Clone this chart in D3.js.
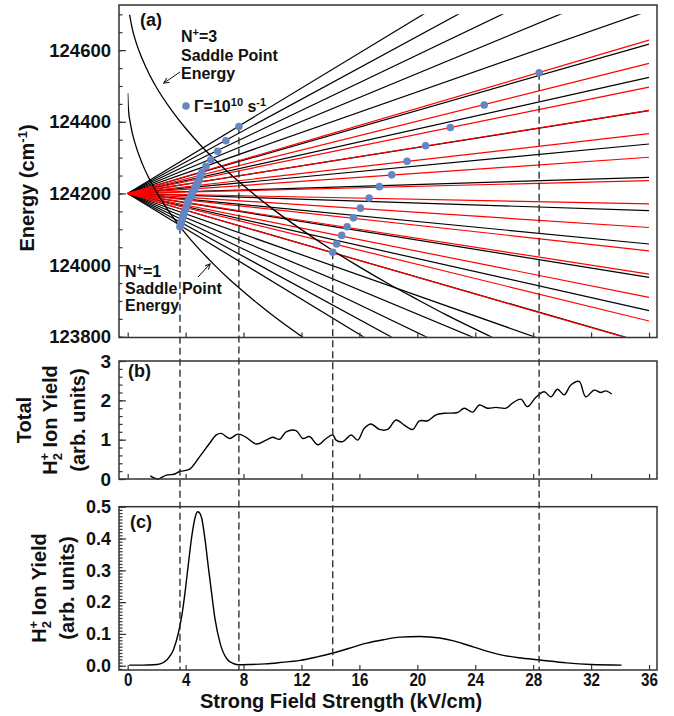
<!DOCTYPE html>
<html>
<head>
<meta charset="utf-8">
<script src="https://cdn.jsdelivr.net/npm/d3@7"></script>
<style>
body { margin: 0; background: #fff; }
text { font-family: "Liberation Sans", Arial, sans-serif; font-weight: bold; fill: #111; }
</style>
</head>
<body>
<div class="canvas"></div>
<script>
// ---- data ----
// (a) Stark manifold: every line starts at (0, originE), value = energy at F = 36 kV/cm
const originE = 124200
const blackEnd = [123315, 123408, 123501, 123594, 123687, 123780, 123873, 123966, 124059, 124152,
    124245, 124338, 124431, 124524, 124617, 124710, 124803, 124896, 124989, 125082]
const redEnd = [123779, 123844, 123910, 123975, 124040, 124105, 124171, 124236, 124301, 124367,
    124432, 124497, 124563, 124628]

// saddle point energies
const sp3F = [0.13, 0.3, 0.6, 1, 1.5, 2, 3, 4, 5, 6, 8, 10, 12, 14, 16, 18, 20, 22, 25.2]
const sp3E = [124699, 124663, 124619, 124576, 124532, 124495, 124434, 124382, 124336, 124295,
    124222, 124157, 124099, 124045, 123995, 123948, 123904, 123861, 123798]
const sp1F = [0, 0.05, 0.2, 0.5, 1, 1.5, 2, 3, 4, 5, 6, 7, 8, 9, 10, 11, 12.3]
const sp1E = [124480, 124436, 124392, 124341, 124284, 124240, 124203, 124141, 124088, 124042,
    124000, 123961, 123926, 123892, 123860, 123830, 123793]

// Gamma = 1e10 s-1 points
const dotF = [14.16, 14.43, 14.78, 15.15, 15.59, 16.07, 16.67, 17.38, 18.23, 19.29, 20.57, 22.28, 24.62, 28.41,
    5.12, 5.40, 5.74, 6.21, 6.78, 7.68,
    5.02, 4.94, 4.86, 4.78, 4.71, 4.63, 4.56, 4.49, 4.41, 4.33, 4.25, 4.16, 4.07, 3.99, 3.90, 3.83, 3.77, 3.71, 3.65, 3.61]
const dotE = [124036, 124059, 124083, 124107, 124132, 124159, 124187, 124219, 124252, 124290, 124333, 124384, 124447, 124537,
    124259, 124276, 124294, 124318, 124347, 124387,
    124250, 124240, 124233, 124227, 124221, 124214, 124208, 124203, 124196, 124190, 124184, 124175, 124166, 124157, 124147, 124137, 124128, 124120, 124112, 124107]

// dashed guide lines (field, top energy)
const dashF = [3.61, 7.68, 14.16, 28.41]
const dashE = [124107, 124387, 124036, 124537]

// (b) total H2+ ion yield
const totF = [1.56, 2.09, 2.67, 3.2, 3.59, 4.28, 4.97, 5.66, 6.12, 6.46, 7.03, 7.61, 8.18, 8.87, 9.56, 10.0, 10.5,
    10.94, 11.63, 12.09, 12.55, 13.13, 13.7, 14.16, 14.39, 14.85, 15.43, 15.88, 16.34, 16.8, 17.38, 17.95,
    18.53, 19.1, 19.68, 20.14, 20.71, 21.29, 21.86, 22.78, 23.24, 23.82, 24.28, 24.85, 25.43, 26.12, 26.57,
    27.15, 27.61, 28.19, 28.76, 29.22, 29.68, 30.14, 30.6, 31.17, 31.63, 32.21, 32.67, 33.01, 33.43]
const totY = [0.08, 0.0, 0.1, 0.12, 0.19, 0.25, 0.57, 0.91, 1.12, 1.16, 1.03, 1.14, 1.06, 0.89, 0.99, 1.06, 1.01,
    1.2, 1.23, 1.03, 1.08, 0.87, 1.03, 1.12, 0.99, 0.95, 1.12, 0.99, 1.29, 1.40, 1.26, 1.26,
    1.50, 1.37, 1.26, 1.48, 1.48, 1.63, 1.67, 1.69, 1.80, 1.70, 1.88, 1.80, 1.82, 1.80, 1.93,
    2.03, 1.84, 2.08, 2.22, 2.09, 2.28, 2.14, 2.39, 2.48, 2.09, 2.26, 2.2, 2.24, 2.16]

// (c) calculated H2+ ion yield
const calcF = [0.1, 1.0, 1.8, 2.24, 2.7, 3.16, 3.5, 3.74, 3.97, 4.19, 4.43, 4.66, 4.84, 5.0, 5.12, 5.34, 5.57,
    5.81, 6.03, 6.38, 6.84, 7.3, 7.67, 8.5, 9.5, 10.5, 11.9, 13.0, 14.19, 15.3, 16.5, 17.7, 18.8, 20.17,
    21.55, 22.5, 23.4, 24.5, 25.7, 27.0, 28.45, 30.3, 32.0, 34.1]
const calcY = [0.002, 0.002, 0.003, 0.006, 0.018, 0.05, 0.103, 0.158, 0.234, 0.32, 0.408, 0.467, 0.484, 0.478,
    0.462, 0.397, 0.31, 0.223, 0.147, 0.071, 0.022, 0.007, 0.003, 0.004, 0.006, 0.01, 0.017, 0.027, 0.04,
    0.055, 0.071, 0.082, 0.09, 0.092, 0.087, 0.078, 0.066, 0.05, 0.035, 0.025, 0.018, 0.009, 0.004, 0.002]

// ticks
const xTicks = d3.range(0, 37, 4)
const aTicks = [123800, 124000, 124200, 124400, 124600]
const bTicks = [0, 1, 2, 3]
const cTicks = [0, 0.1, 0.2, 0.3, 0.4, 0.5]

// ---- svg ----
const svg = d3.select('.canvas')
    .append('svg')
    .attr('width', 674)
    .attr('height', 716)

const x = d3.scaleLinear().domain([-0.6, 36.55]).range([119, 657])
const yA = d3.scaleLinear().domain([123798, 124726]).range([337.5, 5])
const yB = d3.scaleLinear().domain([0, 3]).range([479, 361])
const yC = d3.scaleLinear().domain([-0.0134, 0.5]).range([670, 506.7])

const frameColor = '#333'

svg.append('defs').append('clipPath').attr('id', 'clipA')
    .append('rect')
    .attr('x', x(0)).attr('y', yA(124700))
    .attr('width', x(36) - x(0)).attr('height', yA(123800) - yA(124700))

svg.append('defs').append('marker')
    .attr('id', 'arr').attr('viewBox', '0 0 8 8')
    .attr('refX', 7).attr('refY', 4)
    .attr('markerWidth', 6).attr('markerHeight', 6)
    .attr('orient', 'auto')
    .append('path').attr('d', 'M0,0.5 L7.5,4 L0,7.5').attr('fill', 'none').attr('stroke', '#111').attr('stroke-width', 1.3)

// axes helper
const styleAxis = (g, size) => {
    g.select('.domain').remove()
    g.selectAll('line').attr('stroke', frameColor).attr('stroke-width', 1.2)
    g.attr('font-family', null).attr('font-size', size)
    g.selectAll('text').attr('fill', '#111')
}

const drawXAxis = (y0, labels) => {
    const g = svg.append('g').attr('transform', `translate(0,${y0})`)
        .call(d3.axisBottom(x).tickValues(xTicks).tickSize(-5).tickPadding(3)
            .tickFormat(labels ? d3.format('d') : ''))
    styleAxis(g, 19)
    g.selectAll('text').attr('transform', 'scale(0.8,1)')
}

const drawYAxis = (scale, major, minor, fmt, size) => {
    const gm = svg.append('g').attr('transform', 'translate(119,0)')
        .call(d3.axisLeft(scale).tickValues(minor).tickSize(-3.5).tickFormat(''))
    styleAxis(gm, size)
    const g = svg.append('g').attr('transform', 'translate(119,0)')
        .call(d3.axisLeft(scale).tickValues(major).tickSize(-7).tickPadding(8).tickFormat(fmt))
    styleAxis(g, size)
}

// ---- panel (a) ----
const lineA = d3.line().x(d => x(d[0])).y(d => yA(d[1]))
const plotA = svg.append('g').attr('clip-path', 'url(#clipA)')

plotA.selectAll('.blk')
    .data(blackEnd)
    .enter()
    .append('path')
    .attr('d', d => lineA([[0, originE], [36, d]]))
    .attr('stroke', '#000')
    .attr('stroke-width', 1.2)
    .attr('fill', 'none')

plotA.selectAll('.red')
    .data(redEnd)
    .enter()
    .append('path')
    .attr('d', d => lineA([[0, originE], [36, d]]))
    .attr('stroke', '#ff0000')
    .attr('stroke-width', 1.2)
    .attr('fill', 'none')

const spLine = d3.line().x(d => x(d[0])).y(d => yA(d[1])).curve(d3.curveMonotoneX)
plotA.append('path')
    .attr('d', spLine(sp3F.map((f, i) => [f, sp3E[i]])))
    .attr('stroke', '#000').attr('stroke-width', 1.3).attr('fill', 'none')
plotA.append('path')
    .attr('d', spLine(sp1F.map((f, i) => [f, sp1E[i]])))
    .attr('stroke', '#000').attr('stroke-width', 1.3).attr('fill', 'none')

// ---- panel (b) ----
svg.append('path')
    .attr('d', d3.line().x(d => x(d[0])).y(d => yB(d[1])).curve(d3.curveCatmullRom.alpha(0.5))(totF.map((f, i) => [f, totY[i]])))
    .attr('stroke', '#000').attr('stroke-width', 1.4).attr('fill', 'none')

// ---- panel (c) ----
svg.append('path')
    .attr('d', d3.line().x(d => x(d[0])).y(d => yC(d[1])).curve(d3.curveMonotoneX)(calcF.map((f, i) => [f, calcY[i]])))
    .attr('stroke', '#000').attr('stroke-width', 1.4).attr('fill', 'none')

// dashed guides across all panels
svg.selectAll('.dash')
    .data(dashF)
    .enter()
    .append('line')
    .attr('x1', d => x(d)).attr('x2', d => x(d))
    .attr('y1', (d, i) => yA(dashE[i])).attr('y2', yC.range()[0])
    .attr('stroke', '#222').attr('stroke-width', 1.3)
    .attr('stroke-dasharray', '7,4')

// dots
svg.selectAll('.dot')
    .data(dotF)
    .enter()
    .append('circle')
    .attr('cx', d => x(d))
    .attr('cy', (d, i) => yA(dotE[i]))
    .attr('r', 3.8)
    .attr('fill', '#6487c4')

// frames
const frames = [[5, 337.5], [361, 479], [506.7, 670]]
frames.forEach(f => {
    svg.append('rect')
        .attr('x', 119).attr('y', f[0])
        .attr('width', 657 - 119).attr('height', f[1] - f[0])
        .attr('fill', 'none').attr('stroke', frameColor).attr('stroke-width', 1.5)
})

// axes
drawXAxis(yA.range()[0], false)
drawXAxis(479, false)
drawXAxis(670, true)
drawYAxis(yA, aTicks, d3.range(123800, 124701, 50), d3.format('d'), 18.5)
drawYAxis(yB, bTicks, d3.range(0, 3.01, 0.2), d3.format('d'), 19)
drawYAxis(yC, cTicks, d3.range(-0.01, 0.501, 0.01), d3.format('.1f'), 18)

// ---- text ----
const txt = (x0, y0, s, size) => svg.append('text').attr('x', x0).attr('y', y0).attr('font-size', size).text(s)

txt(140, 26, '(a)', 18)
txt(128, 377, '(b)', 18)
txt(130, 528, '(c)', 18)

// N+=3 label
const n3 = svg.append('text').attr('x', 181).attr('y', 42).attr('font-size', 16)
n3.append('tspan').text('N')
n3.append('tspan').attr('dy', -6).attr('font-size', 11).text('+')
n3.append('tspan').attr('dy', 6).text('=3')
txt(181, 61, 'Saddle Point', 16)
txt(181, 79, 'Energy', 16)
svg.append('line').attr('x1', 180).attr('y1', 72).attr('x2', 164).attr('y2', 83)
    .attr('stroke', '#111').attr('stroke-width', 1).attr('marker-end', 'url(#arr)')

// N+=1 label
const n1 = svg.append('text').attr('x', 125).attr('y', 277).attr('font-size', 16)
n1.append('tspan').text('N')
n1.append('tspan').attr('dy', -6).attr('font-size', 11).text('+')
n1.append('tspan').attr('dy', 6).text('=1')
txt(125, 294, 'Saddle Point', 16)
txt(125, 311, 'Energy', 16)
svg.append('line').attr('x1', 198).attr('y1', 277).attr('x2', 210).attr('y2', 264)
    .attr('stroke', '#111').attr('stroke-width', 1).attr('marker-end', 'url(#arr)')

// legend
svg.append('circle').attr('cx', 186).attr('cy', 106).attr('r', 3.8).attr('fill', '#6487c4')
const lg = svg.append('text').attr('x', 194).attr('y', 112).attr('font-size', 16)
lg.append('tspan').text('Γ=10')
lg.append('tspan').attr('dy', -6).attr('font-size', 11).text('10')
lg.append('tspan').attr('dy', 6).text(' s')
lg.append('tspan').attr('dy', -6).attr('font-size', 11).text('-1')

// axis titles
const vtext = (cx, cy) => svg.append('text')
    .attr('transform', `translate(${cx},${cy}) rotate(-90)`)
    .attr('text-anchor', 'middle')
    .attr('dy', '0.36em')
    .attr('font-size', 20)

const en = vtext(27, 188)
en.append('tspan').text('Energy (cm')
en.append('tspan').attr('dy', -7).attr('font-size', 13).text('-1')
en.append('tspan').attr('dy', 7).text(')')

const h2 = (t) => {
    t.append('tspan').text('H')
    t.append('tspan').attr('dy', 5).attr('font-size', 13).text('2')
    t.append('tspan').attr('dx', -7.5).attr('dy', -13).attr('font-size', 13).text('+')
    t.append('tspan').attr('dy', 8).text(' Ion Yield')
}

vtext(24, 420).text('Total')
h2(vtext(50, 420))
vtext(78, 420).text('(arb. units)')

h2(vtext(39, 588))
vtext(67, 588).text('(arb. units)')

svg.append('text')
    .attr('x', 341).attr('y', 708)
    .attr('text-anchor', 'middle')
    .attr('font-size', 20)
    .text('Strong Field Strength (kV/cm)')
</script>
</body>
</html>
